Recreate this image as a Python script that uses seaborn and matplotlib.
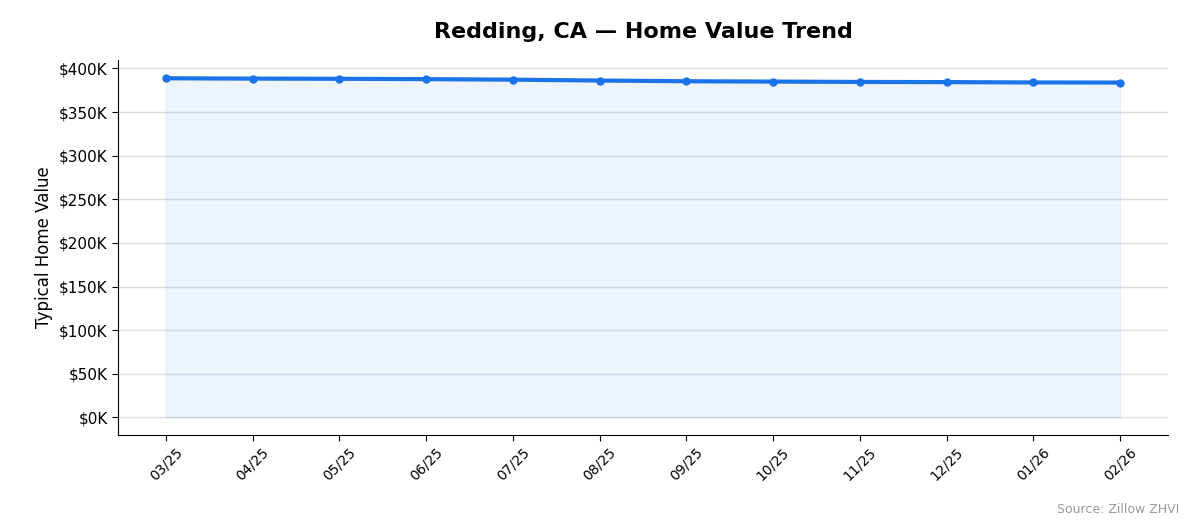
import matplotlib
matplotlib.use("Agg")
import matplotlib.pyplot as plt
import seaborn as sns
import pandas as pd
from matplotlib.ticker import FuncFormatter

months = ["03/25","04/25","05/25","06/25","07/25","08/25","09/25","10/25","11/25","12/25","01/26","02/26"]
values = [388800, 388400, 388200, 387800, 387200, 386200, 385400, 385000, 384600, 384400, 384000, 383900]

sns.set_style("white")
plt.rcParams.update({"text.color": "black", "axes.labelcolor": "black",
                     "xtick.color": "black", "ytick.color": "black", "axes.edgecolor": "black"})
df = pd.DataFrame({"month": months, "value": values, "x": range(len(months))})
fig, ax = plt.subplots(figsize=(11.94, 5.29), dpi=100)
ax.fill_between(df["x"], df["value"], color="#1a73e8", alpha=0.08)
sns.lineplot(data=df, x="x", y="value", ax=ax, color="#1a73e8", linewidth=3, marker="o", markersize=6, markeredgewidth=0)
ax.set_xticks(df["x"])
ax.set_xticklabels(months, rotation=45, fontsize=10)
ax.set_ylim(-20000, 410000)
ax.set_yticks(range(0, 400001, 50000))
ax.yaxis.set_major_formatter(FuncFormatter(lambda v, p: f"${int(v/1000)}K"))
ax.tick_params(axis="y", labelsize=11)
ax.tick_params(axis="both", length=4, left=True, bottom=True)
ax.grid(axis="y", color="#e0e0e0", linewidth=1)
ax.set_xlabel("")
ax.set_ylabel("Typical Home Value", fontsize=12)
ax.set_title("Redding, CA — Home Value Trend", fontsize=16, fontweight="bold", pad=16)
ax.set_xlim(-0.55, 11.55)
sns.despine(ax=ax)
fig.text(0.988, 0.03, "Source: Zillow ZHVI", ha="right", fontsize=9, color="#999999")
fig.subplots_adjust(left=0.099, right=0.978, top=0.887, bottom=0.178)
fig.savefig("out.png", dpi=100)
